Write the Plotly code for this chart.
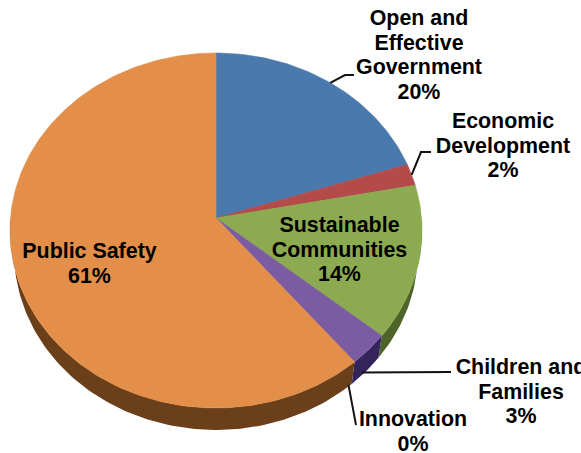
import math
import plotly.graph_objects as go

# Budget shares, clockwise from twelve o'clock
categories = ["Open and Effective Government", "Economic Development", "Sustainable Communities",
              "Children and Families", "Innovation", "Public Safety"]
shares = [20, 2, 14, 3, 0, 61]
label_lines = [["Open and", "Effective", "Government"], ["Economic", "Development"],
               ["Sustainable", "Communities"], ["Children and", "Families"], ["Innovation"], ["Public Safety"]]

top_colors = ["#4a79ad", "#b44a49", "#8cab50", "#7b5ca2", "#7b5ca2", "#e38e49"]
side_colors = ["#2b4a70", "#6e2b2b", "#4f6429", "#33245a", "#33245a", "#6a3f1a"]
label_centers = [(419, 20), (503, 123), (339.5, 227), (521, 369), (413, 421), (89.5, 253)]
leader_elbows = [[(345, 75), (354, 75)], [(421, 152), (431, 152)], None, [(451, 372)], [(356, 425)], None]
leader_offsets = [(0, 0), (0, 0), None, (-7, 23), (-6, 23), None]

# Pie seen in perspective, in page pixels: the near side of the disc is larger
APEX_X, APEX_Y = 216, 218
RX, RY = 205.5, 176.6
NEAR = 0.0704
DEPTH = 22
BASE_SHRINK = 0.98
LINE_STEP = 24.5


def rim(turn):
    angle = 2 * math.pi * turn
    scale = 1 + NEAR * math.cos(angle)
    return APEX_X + RX * math.sin(angle) / scale, APEX_Y - RY * math.cos(angle) / scale


def arc(start, end):
    count = max(2, int((end - start) * 360))
    return [rim(start + (end - start) * i / count) for i in range(count + 1)]


fig = go.Figure()
total = sum(shares)
spans = []
running = 0
for value in shares:
    spans.append((running / total, (running + value) / total))
    running += value

# Visible edge of the slab along the front half of the rim
for (start, end), color in zip(spans, side_colors):
    lo, hi = max(start, 0.25), min(end, 0.75)
    if hi > lo:
        edge = arc(lo, hi)
        base = [(APEX_X + (x - APEX_X) * BASE_SHRINK, y + DEPTH) for x, y in reversed(edge)]
        pts = edge + base
        fig.add_trace(go.Scatter(x=[p[0] for p in pts], y=[p[1] for p in pts], mode="lines",
                                 fill="toself", fillcolor=color, line=dict(width=0), hoverinfo="skip"))

# Top faces
for name, (start, end), color in zip(categories, spans, top_colors):
    if end > start:
        pts = [(APEX_X, APEX_Y)] + arc(start, end) + [(APEX_X, APEX_Y)]
        fig.add_trace(go.Scatter(x=[p[0] for p in pts], y=[p[1] for p in pts], mode="lines", name=name,
                                 fill="toself", fillcolor=color, line=dict(width=0.6, color=color)))

# Leader lines from each slice to its label
for (start, end), elbow, offset in zip(spans, leader_elbows, leader_offsets):
    if elbow:
        x0, y0 = rim((start + end) / 2)
        xs = [x0 + offset[0]] + [p[0] for p in elbow]
        ys = [y0 + offset[1]] + [p[1] for p in elbow]
        fig.add_trace(go.Scatter(x=xs, y=ys, mode="lines", line=dict(color="#111111", width=2), hoverinfo="skip"))

# Labels, one text element per line for tight leading
text_x, text_y, text_s = [], [], []
for lines, value, (cx, cy) in zip(label_lines, shares, label_centers):
    for i, line in enumerate(lines + [f"{value}%"]):
        text_x.append(cx)
        text_y.append(cy + i * LINE_STEP)
        text_s.append(line)
fig.add_trace(go.Scatter(x=text_x, y=text_y, text=text_s, mode="text", textposition="middle center",
                         textfont=dict(family="Liberation Sans", size=21.4, color="#000000", weight="bold"),
                         hoverinfo="skip", cliponaxis=False))

fig.update_layout(width=581, height=453, margin=dict(l=0, r=0, t=0, b=0), showlegend=False,
                  paper_bgcolor="white", plot_bgcolor="white",
                  xaxis=dict(range=[0, 581], visible=False, fixedrange=True),
                  yaxis=dict(range=[453, 0], visible=False, fixedrange=True))
fig.write_html("out.html", config={"displayModeBar": False})
